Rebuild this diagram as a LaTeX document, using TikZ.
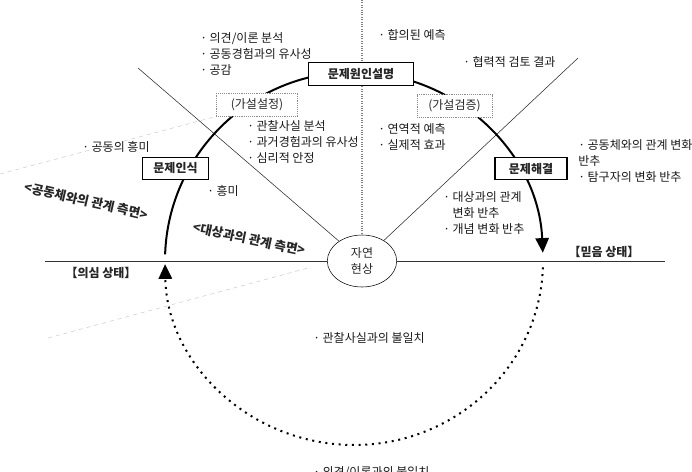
\documentclass[tikz,border=0pt]{standalone}
\usepackage{fontspec}
\setmainfont{Noto Sans CJK KR}
\usepackage{tikz}
\usetikzlibrary{shapes.geometric, arrows.meta}

\begin{document}
\begin{tikzpicture}[x=0.75pt, y=-0.75pt,
    note/.style={font=\fontsize{9}{12}\selectfont, text=black!90, inner sep=0pt, anchor=base west, align=left},
    stage/.style={draw, thick, fill=white, font=\fontsize{9}{11}\selectfont\bfseries, text=black!85, minimum height=17pt, inner sep=1pt},
    hypo/.style={draw=black!45, densely dotted, fill=white, font=\fontsize{9}{11}\selectfont, text=black!85, minimum height=17pt, inner sep=1pt},
    aspect/.style={font=\fontsize{9.5}{11}\selectfont\bfseries, text=black!85, inner sep=0pt},
    state/.style={font=\fontsize{9}{11}\selectfont\bfseries, text=black!85, inner sep=0pt},
    bigtip/.style={-{Triangle[width=10pt, length=11pt]}}]
    \useasboundingbox (0,0) rectangle (692,471);

    % faint guide lines
    \coordinate (g1a) at (0,174);
    \coordinate (g1b) at (214,117);
    \coordinate (g2a) at (48,338);
    \coordinate (g2b) at (308,268);
    \draw[black!20, dashed, thin] (g1a) -- (g1b);
    \draw[black!20, dashed, thin] (g2a) -- (g2b);

    % natural phenomenon in the middle
    \node[ellipse, draw, fill=white, minimum width=52pt, minimum height=39pt, inner sep=0pt,
          font=\fontsize{9}{12}\selectfont, text=black!85, align=center] (nature) at (362,261) {자연\\현상};

    \coordinate (top) at (362,0);
    \coordinate (ltop) at (138,68);
    \coordinate (rtop) at (578,58);
    \coordinate (lend) at (45,261);
    \coordinate (rend) at (665,261);
    \draw[black!50, densely dotted, thick] (top) -- (nature);
    \draw[black!85] (ltop) -- (nature);
    \draw[black!85] (rtop) -- (nature);
    \draw[black!80, semithick] (lend) -- (nature);
    \draw[black!80, semithick] (nature) -- (rend);

    % inquiry cycle
    \coordinate (doubt) at (165.1,254.4);
    \coordinate (belief) at (542.9,267.4);
    \draw[line width=1.5pt, bigtip] (doubt) arc[start angle=182, end angle=357.5, radius=189];
    \draw[line width=1.5pt, dash pattern=on 1.5pt off 3.5pt, bigtip] (belief) arc[start angle=2, end angle=179, x radius=189, y radius=184];

    \node[stage, minimum width=79pt] (cause) at (361,74) {문제원인설명};
    \node[hypo, minimum width=61pt] (setup) at (257,104.5) {(가설설정)};
    \node[hypo, minimum width=56pt] (test) at (454.5,106) {(가설검증)};
    \node[stage, minimum width=50pt] (recog) at (175.5,168.5) {문제인식};
    \node[stage, minimum width=54pt] (solve) at (531,168.5) {문제해결};

    % aspects and states
    \node[aspect, rotate=-13] (commu) at (86,201) {<공동체와의 관계 측면>};
    \node[aspect, rotate=-12] (object) at (249,239) {<대상과의 관계 측면>};
    \node[state] (doubtlbl) at (101,273) {【의심 상태】};
    \node[state] (belieflbl) at (604,252) {【믿음 상태】};

    % notes (base = last line)
    \node[note] (n1) at (200,74) {· 의견/이론 분석\\· 공동경험과의 유사성\\· 공감};
    \node[note] (n2) at (378,39) {· 합의된 예측};
    \node[note] (n3) at (463,66) {· 협력적 검토 결과};
    \node[note] (n4) at (247,162) {· 관찰사실 분석\\· 과거경험과의 유사성\\· 심리적 안정};
    \node[note] (n5) at (378,149) {· 연역적 예측\\· 실제적 효과};
    \node[note] (n6) at (82,151) {· 공동의 흥미};
    \node[note] (n7) at (207,195) {· 흥미};
    \node[note] (n8) at (578,181) {· 공동체와의 관계 변화\\반추\\· 탐구자의 변화 반추};
    \node[note] (n9) at (443,233) {· 대상과의 관계\\\phantom{·} 변화 반추\\· 개념 변화 반추};
    \node[note] (n10) at (313,342) {· 관찰사실과의 불일치};
    \node[note] (n11) at (313,476) {· 의견/이론과의 불일치};
\end{tikzpicture}
\end{document}
